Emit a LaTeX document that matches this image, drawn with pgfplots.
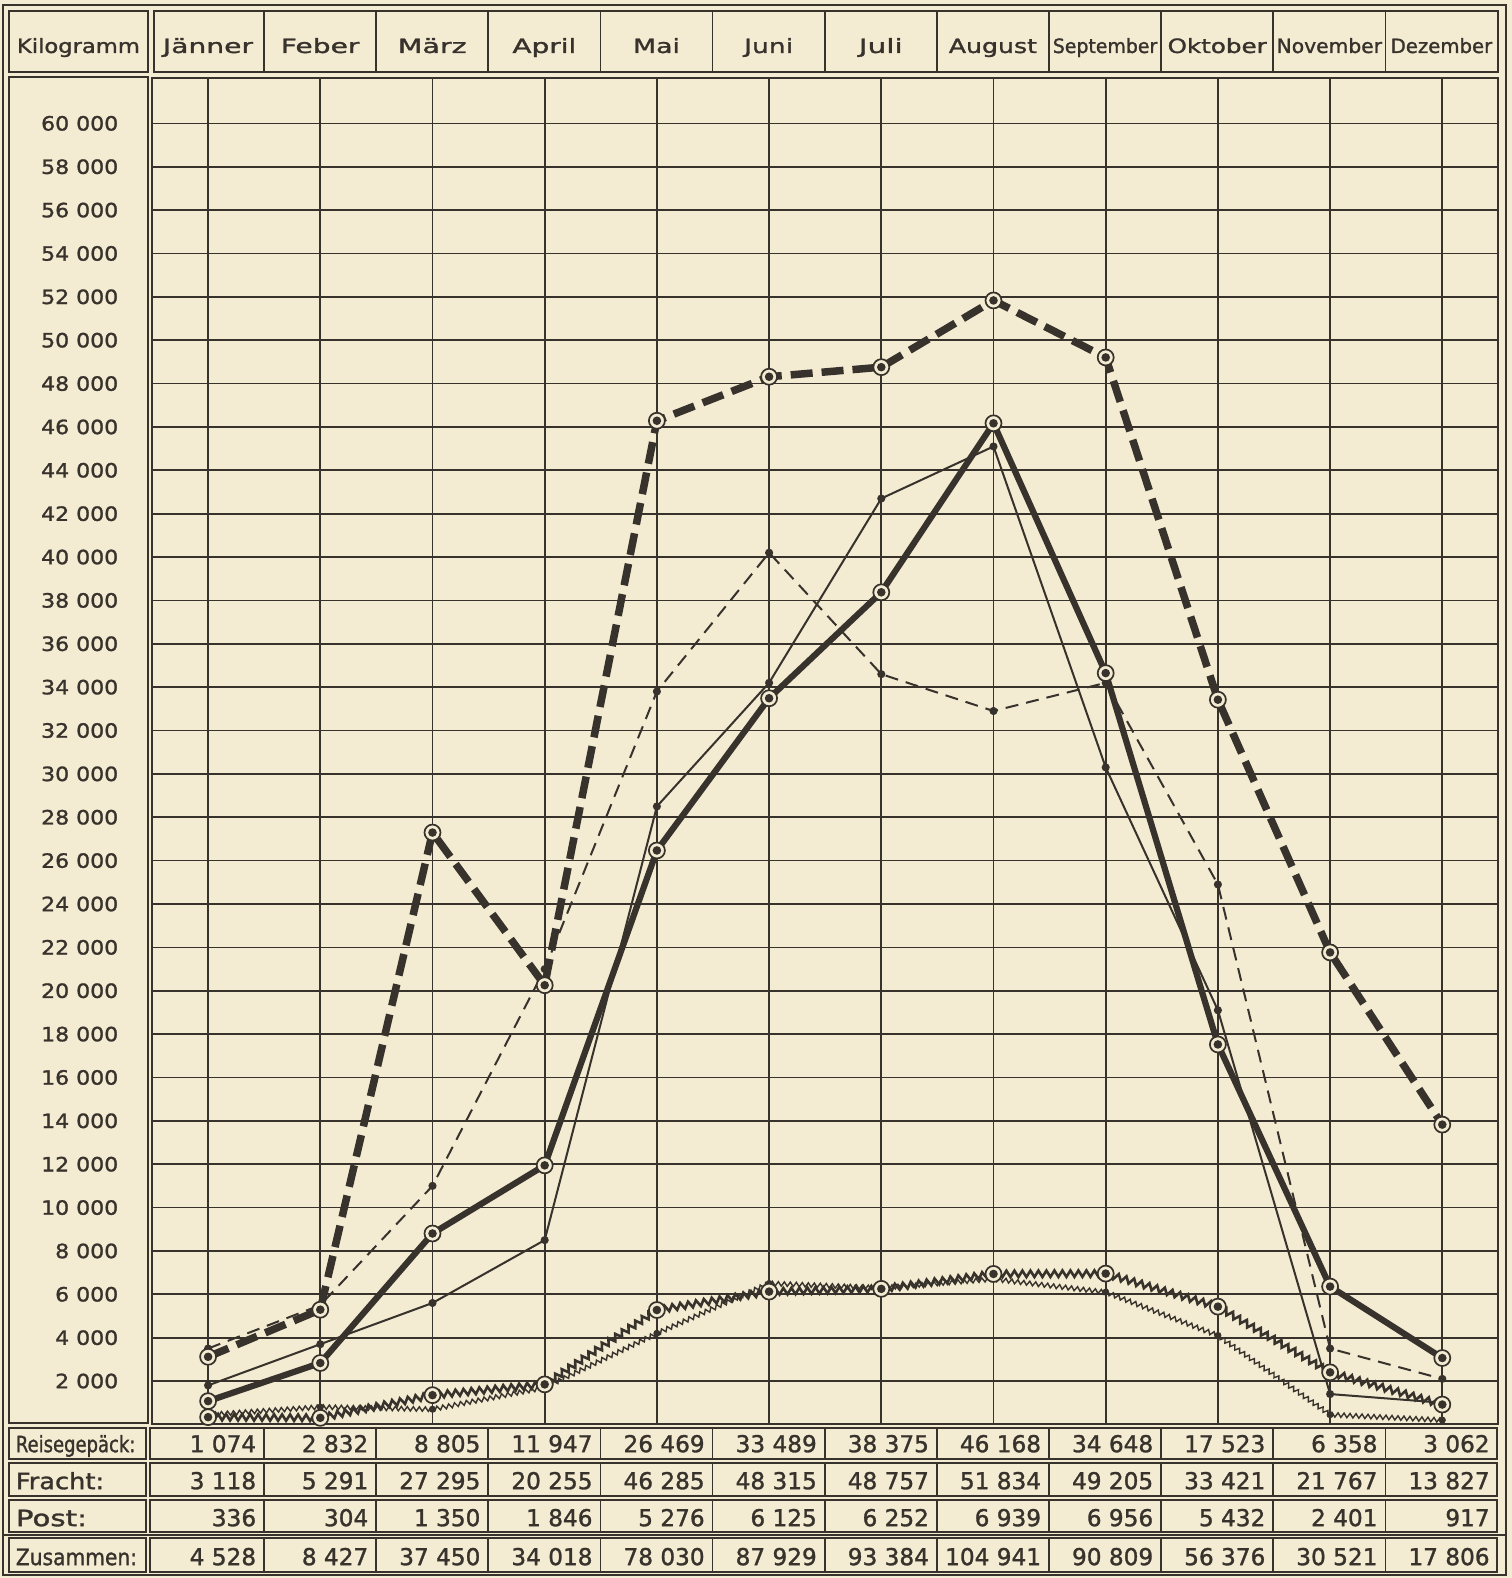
\documentclass[border=0pt]{standalone}
\usepackage{pgfplots}
\usepackage{pgfplotstable}
\pgfplotsset{compat=1.18}
\usepackage{fontspec}
\usepackage{graphicx}
\usetikzlibrary{decorations.pathmorphing}
\setmainfont{DejaVu Sans}[FakeBold=1.3]
\definecolor{paper}{RGB}{243,235,210}
\definecolor{ink}{RGB}{55,50,44}
\newcommand{\hf}{\fontsize{5.6pt}{6pt}\selectfont}
\newcommand{\nf}{\fontsize{6.6pt}{7pt}\selectfont}
\newcommand{\tf}{\fontsize{5.6pt}{6pt}\selectfont}
\newcommand{\rf}{\fontsize{6.4pt}{7pt}\selectfont}
\newcommand{\yl}[1]{\scalebox{1.12}[1]{#1}}
\pgfdeclareplotmark{ringdot}{%
  \pgfsetdash{}{0pt}%
  \pgfsetlinewidth{0.17mm}%
  \pgfsetstrokecolor{ink}\pgfsetfillcolor{paper}%
  \pgfpathcircle{\pgfpointorigin}{0.8mm}%
  \pgfusepath{fill,stroke}%
  \pgfsetfillcolor{ink}%
  \pgfpathcircle{\pgfpointorigin}{0.43mm}%
  \pgfusepath{fill}%
}
% Post, current year (thick zigzag)
\pgfplotstableread{
m v
0 336
1 304
2 1350
3 1846
4 5276
5 6125
6 6252
7 6939
8 6956
9 5432
10 2401
11 917
}\postnow
% Post, previous year (thin zigzag)
\pgfplotstableread{
m v
0 450
1 800
2 700
3 1700
4 4200
5 6500
6 6300
7 6700
8 6100
9 4100
10 450
11 200
}\postprev
\begin{document}
\begin{tikzpicture}
\fill[paper] (0,0) rectangle (15.12,-15.78);
\begin{axis}[
  at={(1.52cm,-14.244cm)}, anchor=south west,
  scale only axis, width=13.464cm, height=13.466cm,
  xmin=-0.5, xmax=11.5, ymin=0, ymax=62100,
  xtick={0,...,11}, xticklabels={},
  ytick={2000,4000,...,60000},
  yticklabels={\yl{2 000},\yl{4 000},\yl{6 000},\yl{8 000},\yl{10 000},\yl{12 000},\yl{14 000},\yl{16 000},\yl{18 000},\yl{20 000},\yl{22 000},\yl{24 000},\yl{26 000},\yl{28 000},\yl{30 000},\yl{32 000},\yl{34 000},\yl{36 000},\yl{38 000},\yl{40 000},\yl{42 000},\yl{44 000},\yl{46 000},\yl{48 000},\yl{50 000},\yl{52 000},\yl{54 000},\yl{56 000},\yl{58 000},\yl{60 000}},
  scaled y ticks=false,
  major tick length=0pt,
  grid=major, grid style={ink, line width=0.17mm},
  axis line style={ink, line width=0.2mm},
  yticklabel style={anchor=east, inner sep=0pt, xshift=-3.3mm, font=\tf, text=ink},
  clip=false,
]
% previous-year series (thin)
\addplot[ink, line width=0.2mm, dash pattern=on 1.3mm off 0.8mm, mark=*, mark size=0.3mm, mark options={solid, fill=ink}]
 coordinates {(0,3500) (1,5500) (2,11000) (3,21000) (4,33800) (5,40200) (6,34600) (7,32900) (8,34200) (9,24900) (10,3500) (11,2100)};
\addplot[ink, line width=0.2mm, mark=*, mark size=0.3mm, mark options={fill=ink}]
 coordinates {(0,1800) (1,3700) (2,5600) (3,8500) (4,28500) (5,34200) (6,42700) (7,45100) (8,30300) (9,19100) (10,1400) (11,1000)};
\addplot[ink, line width=0.14mm, mark=none, decorate, decoration={zigzag, segment length=0.6mm, amplitude=0.22mm}] table[x=m, y=v] {\postprev};
\addplot[ink, only marks, mark=*, mark size=0.28mm, mark options={fill=ink}] table[x=m, y=v] {\postprev};
% current-year series (thick)
\addplot[ink, line width=0.26mm, mark=none, decorate, decoration={zigzag, segment length=0.8mm, amplitude=0.32mm}] table[x=m, y=v] {\postnow};
\addplot[ink, only marks, mark=ringdot] table[x=m, y=v] {\postnow};
\addplot[ink, line width=0.62mm, mark=ringdot]
 coordinates {(0,1074) (1,2832) (2,8805) (3,11947) (4,26469) (5,33489) (6,38375) (7,46168) (8,34648) (9,17523) (10,6358) (11,3062)};
\addplot[ink, line width=0.75mm, dash pattern=on 2.2mm off 0.9mm, mark=ringdot]
 coordinates {(0,3118) (1,5291) (2,27295) (3,20255) (4,46285) (5,48315) (6,48757) (7,51834) (8,49205) (9,33421) (10,21767) (11,13827)};
\end{axis}
\begin{scope}[x=0.01cm, y=-0.01cm, draw=ink, line width=0.18mm, text=ink]
\draw[line width=0.25mm] (3,5) rectangle (1507,1576);
% header
\draw (9,11) rectangle (148,72);
\draw (154,11) rectangle (1499,72);
\foreach \k in {1,...,11} \draw ({152+112.2*\k},11) -- ({152+112.2*\k},72);
\node[anchor=base, inner sep=0] at (78.5,53) {\hf\scalebox{1.15}[1]{Kilogramm}};
\foreach \m/\s [count=\i from 0] in {Jänner/1.43,Feber/1.43,März/1.45,April/1.42,Mai/1.36,Juni/1.35,Juli/1.5,August/1.28,September/0.96,Oktober/1.25,November/1.03,Dezember/1.0}
  \node[anchor=base, inner sep=0] at ({208.1+112.2*\i},53) {\hf\scalebox{\s}[1]{\m}};
% y label column
\draw (9,77) rectangle (148,1424);
% table rows
\foreach \t/\b in {1429/1460,1464/1497,1501/1533,1539/1573} {
  \draw (9,\t) rectangle (146,\b);
  \draw (150,\t) rectangle (1498,\b);
  \foreach \k in {1,...,11} \draw ({152+112.2*\k},\t) -- ({152+112.2*\k},\b);
}
\draw (3,1536) -- (1507,1536);
\node[anchor=base west, inner sep=0] at (15,1453) {\rf\scalebox{0.8}[1]{Reisegepäck:}};
\node[anchor=base west, inner sep=0] at (15,1490) {\rf\scalebox{1.14}[1]{Fracht:}};
\node[anchor=base west, inner sep=0] at (15,1527) {\rf\scalebox{1.3}[1]{Post:}};
\node[anchor=base west, inner sep=0] at (15,1566) {\rf\scalebox{0.9}[1]{Zusammen:}};
\foreach \v [count=\i] in {1 074,2 832,8 805,11 947,26 469,33 489,38 375,46 168,34 648,17 523,6 358,3 062}
  \node[anchor=base east, inner sep=0] at ({152+112.2*\i-7},1453) {\nf\v};
\foreach \v [count=\i] in {3 118,5 291,27 295,20 255,46 285,48 315,48 757,51 834,49 205,33 421,21 767,13 827}
  \node[anchor=base east, inner sep=0] at ({152+112.2*\i-7},1490) {\nf\v};
\foreach \v [count=\i] in {336,304,1 350,1 846,5 276,6 125,6 252,6 939,6 956,5 432,2 401,917}
  \node[anchor=base east, inner sep=0] at ({152+112.2*\i-7},1527) {\nf\v};
\foreach \v [count=\i] in {4 528,8 427,37 450,34 018,78 030,87 929,93 384,104 941,90 809,56 376,30 521,17 806}
  \node[anchor=base east, inner sep=0] at ({152+112.2*\i-7},1566) {\nf\v};
\end{scope}
\end{tikzpicture}
\end{document}
